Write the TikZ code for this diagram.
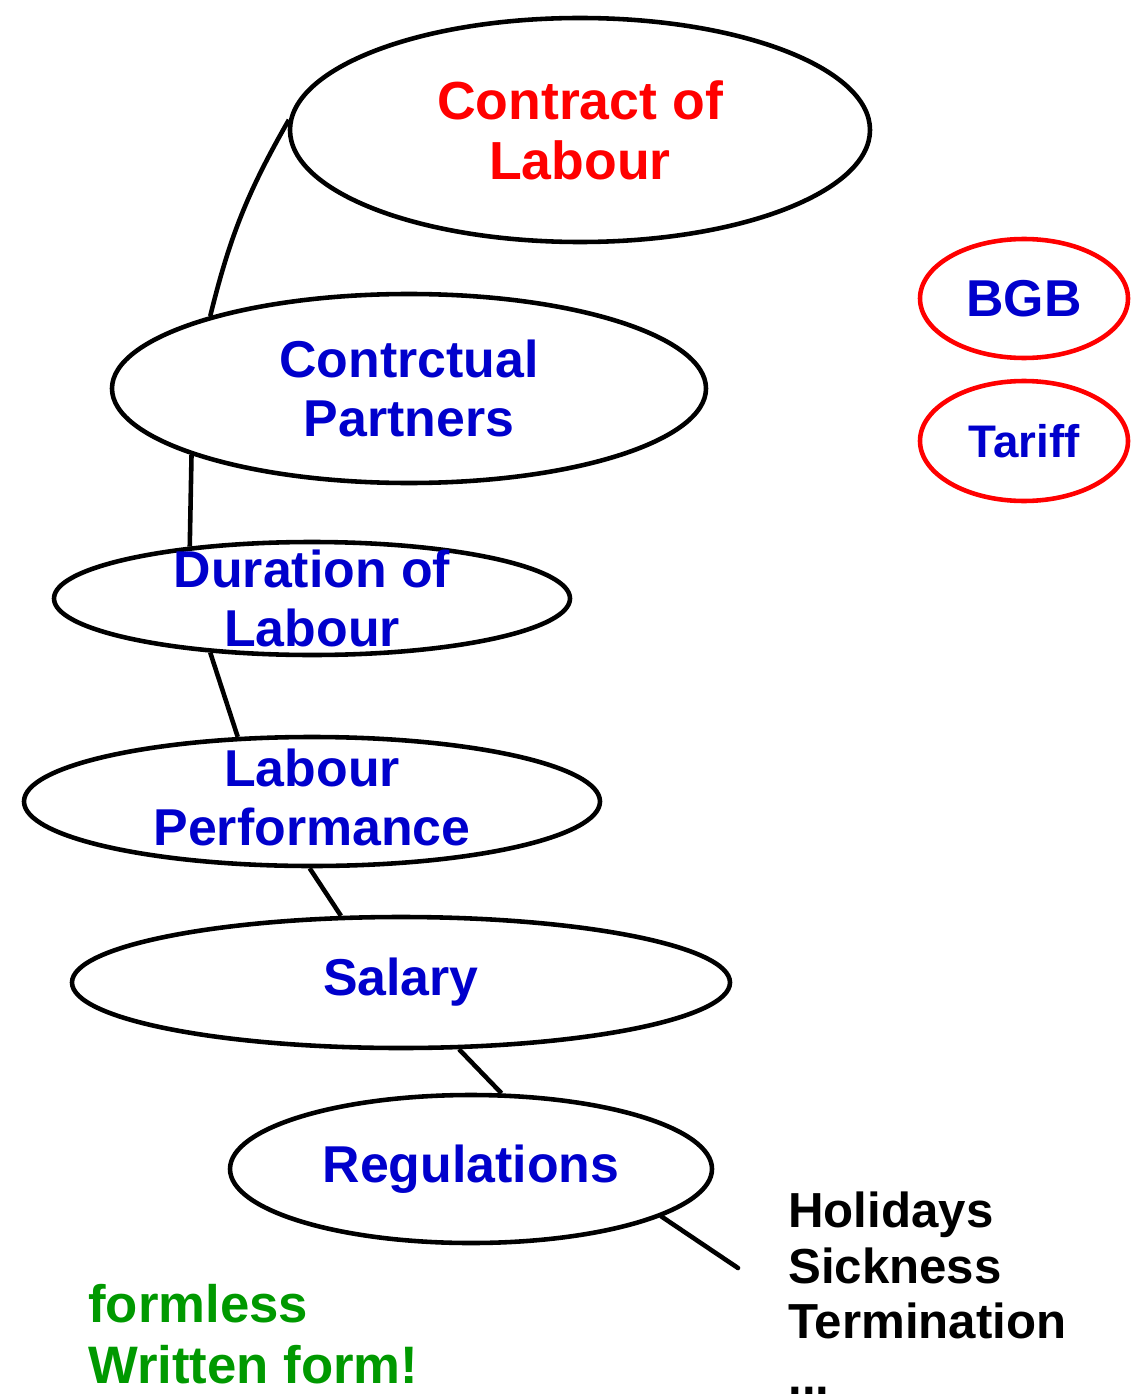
\documentclass[tikz,border=0pt]{standalone}
\usepackage{fontspec}
\setmainfont{Liberation Sans}
\usepackage{tikz}
\usetikzlibrary{shapes.geometric}
\usepackage{xcolor}
\definecolor{topicblue}{RGB}{0,0,204}
\definecolor{notegreen}{RGB}{0,153,0}

\begin{document}
\begin{tikzpicture}[scale = 1]
    \tikzstyle{edge}=[draw,line width = 2.6pt,-,black!100]
    \tikzstyle{topic}=[draw,ellipse,line width = 2.6pt,inner sep=0pt]
    \tikzstyle{source}=[draw=red,ellipse,line width = 2.6pt,inner sep=0pt]
    \tikzstyle{topictext}=[text=topicblue,align=center,inner sep=0pt,font=\fontsize{29.5}{33.5}\selectfont\bfseries]
    \tikzstyle{note}=[align=left,inner sep=0pt,font=\fontsize{28}{31.5}\selectfont\bfseries]
    \useasboundingbox (0,0) rectangle (22.64,-27.92);
    \node[topic,minimum width=11.6cm,minimum height=4.48cm,label={[topictext,text=red,font=\fontsize{30.5}{34}\selectfont\bfseries]center:{Contract of\\Labour}}] (contract) at (11.6,-2.6) {};
    \node[topic,minimum width=11.88cm,minimum height=3.78cm,label={[topictext]center:{Contrctual\\Partners}}] (partners) at (8.18,-7.77) {};
    \node[topic,minimum width=10.32cm,minimum height=2.26cm,label={[topictext]center:{Duration of\\Labour}}] (duration) at (6.24,-11.97) {};
    \node[topic,minimum width=11.52cm,minimum height=2.58cm,label={[topictext,yshift=0.08cm]center:{Labour\\Performance}}] (performance) at (6.24,-16.03) {};
    \node[topic,minimum width=13.16cm,minimum height=2.62cm,label={[topictext]center:{Salary}}] (salary) at (8.02,-19.65) {};
    \node[topic,minimum width=9.64cm,minimum height=2.96cm,label={[topictext]center:{Regulations}}] (regulations) at (9.42,-23.38) {};
    \node[source,minimum width=4.16cm,minimum height=2.38cm,label={[topictext]center:{BGB}}] (bgb) at (20.48,-5.97) {};
    \node[source,minimum width=4.16cm,minimum height=2.4cm,label={[topictext,font=\fontsize{26}{30}\selectfont\bfseries]center:{Tariff}}] (tariff) at (20.48,-8.82) {};
    \coordinate (rest) at (14.76,-25.36);
    \draw[edge] (contract.178) to[bend right=8] (partners.160.9);
    \draw[edge] (partners.197.6) -- (duration.157.6);
    \draw[edge] (duration.208.5) -- (performance.139.1);
    \draw[edge] (performance.268.2) -- (salary.132);
    \draw[edge] (salary.311.5) -- (regulations.68.5);
    \draw[edge,line cap=round] (regulations.346.3) -- (rest);
    \node[note,anchor=base west] (topics) at (15.76,-27.88) {Holidays\\Sickness\\Termination\\...};
    \node[note,text=notegreen,anchor=base west,font=\fontsize{30}{34.5}\selectfont\bfseries] (forms) at (1.76,-27.66) {formless\\Written form!};
\end{tikzpicture}
\end{document}
